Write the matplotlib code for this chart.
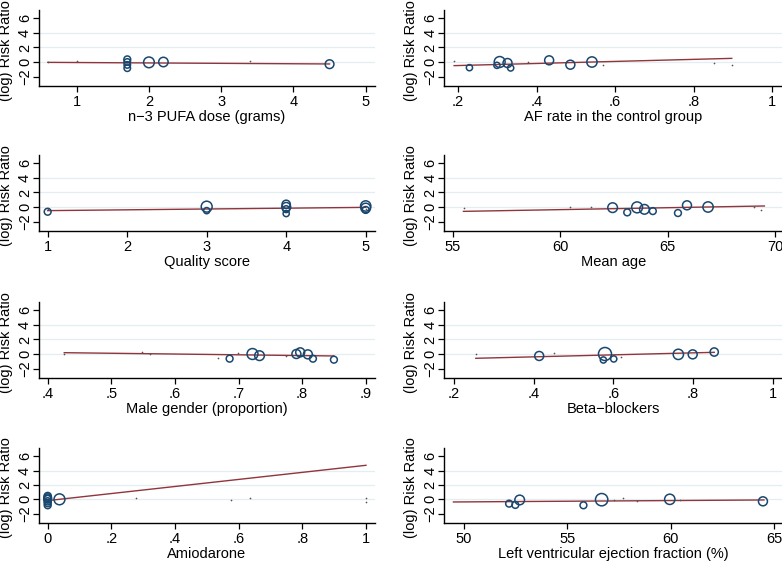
import matplotlib
matplotlib.use("Agg")
import matplotlib.pyplot as plt

plt.rcParams['font.family'] = ['Liberation Sans', 'DejaVu Sans']
plt.rcParams['font.size'] = 10

NAVY = '#1a476f'
MAROON = '#90353b'
GRID = '#e4edf0'

# --- n-3 PUFA dose
dose_x = [1.7, 1.7, 1.7, 1.7, 2.0, 2.2, 4.5]
dose_y = [0.36, 0.0, -0.4, -0.85, -0.05, 0.0, -0.3]
dose_w = [11, 10, 10, 10, 27, 21, 18]
dose_dots_x = [0.6, 1.0, 3.4]
dose_dots_y = [0.0, 0.18, 0.1]
dose_fit_x = [0.6, 4.5]
dose_fit_y = [-0.05, -0.27]
dose_ticks = [1, 2, 3, 4, 5]
dose_labels = ['1', '2', '3', '4', '5']

# --- AF rate in the control group
af_x = [0.229, 0.299, 0.306, 0.326, 0.334, 0.432, 0.486, 0.541]
af_y = [-0.78, -0.46, 0.0, -0.14, -0.82, 0.23, -0.37, 0.0]
af_w = [9, 9, 28, 19, 9, 19, 19, 25]
af_dots_x = [0.189, 0.377, 0.568, 0.853, 0.897]
af_dots_y = [0.18, 0.05, -0.46, -0.14, -0.37]
af_fit_x = [0.19, 0.897]
af_fit_y = [-0.5, 0.5]
af_ticks = [0.2, 0.4, 0.6, 0.8, 1.0]
af_labels = ['.2', '.4', '.6', '.8', '1']

# --- Quality score
qs_x = [1, 3, 3, 4, 4, 4, 4, 5, 5, 5]
qs_y = [-0.65, 0.05, -0.5, 0.37, 0.0, -0.3, -0.9, 0.14, -0.14, -0.4]
qs_w = [11, 28, 9, 16, 19, 11, 9, 25, 22, 11]
qs_dots_x = [1, 5]
qs_dots_y = [-0.3, -0.3]
qs_fit_x = [1, 5]
qs_fit_y = [-0.5, -0.05]
qs_ticks = [1, 2, 3, 4, 5]
qs_labels = ['1', '2', '3', '4', '5']

# --- Mean age
age_x = [62.44, 63.12, 63.58, 63.92, 64.31, 65.48, 65.90, 66.88]
age_y = [-0.09, -0.74, -0.05, -0.32, -0.56, -0.83, 0.23, 0.0]
age_w = [22, 11, 28, 22, 11, 11, 19, 25]
age_dots_x = [55.54, 60.48, 61.45, 69.01, 69.32]
age_dots_y = [-0.19, 0.05, 0.0, 0.05, -0.42]
age_fit_x = [55.5, 69.5]
age_fit_y = [-0.6, 0.14]
age_ticks = [55, 60, 65, 70]
age_labels = ['55', '60', '65', '70']

# --- Male gender (proportion)
male_x = [0.686, 0.722, 0.733, 0.791, 0.797, 0.809, 0.817, 0.850]
male_y = [-0.64, 0.0, -0.23, 0.0, 0.23, -0.05, -0.64, -0.78]
male_w = [11, 28, 22, 19, 19, 19, 11, 11]
male_dots_x = [0.426, 0.549, 0.561, 0.668, 0.699, 0.775]
male_dots_y = [0.05, 0.23, 0.05, -0.5, 0.18, -0.27]
male_fit_x = [0.426, 0.850]
male_fit_y = [0.18, -0.27]
male_ticks = [0.4, 0.5, 0.6, 0.7, 0.8, 0.9]
male_labels = ['.4', '.5', '.6', '.7', '.8', '.9']

# --- Beta-blockers
bb_x = [0.414, 0.579, 0.575, 0.601, 0.763, 0.799, 0.853]
bb_y = [-0.27, 0.0, -0.82, -0.68, -0.05, -0.05, 0.27]
bb_w = [19, 40, 9, 9, 25, 19, 16]
bb_dots_x = [0.256, 0.45, 0.618]
bb_dots_y = [0.05, 0.14, -0.46]
bb_fit_x = [0.255, 0.853]
bb_fit_y = [-0.59, 0.23]
bb_ticks = [0.2, 0.4, 0.6, 0.8, 1.0]
bb_labels = ['.2', '.4', '.6', '.8', '1']

# --- Amiodarone
amio_x = [0, 0, 0, 0, 0, 0, 0, 0.037]
amio_y = [0.46, 0.23, 0.0, -0.28, -0.55, -0.83, 0.1, 0.0]
amio_w = [12, 14, 14, 12, 11, 11, 12, 28]
amio_dots_x = [0.279, 0.575, 0.635, 1.0, 1.0]
amio_dots_y = [0.14, -0.14, 0.18, 0.14, -0.37]
amio_fit_x = [0, 1]
amio_fit_y = [-0.18, 4.74]
amio_ticks = [0, 0.2, 0.4, 0.6, 0.8, 1.0]
amio_labels = ['0', '.2', '.4', '.6', '.8', '1']

# --- Left ventricular ejection fraction
lvef_x = [52.19, 52.49, 52.70, 55.78, 56.66, 59.95, 64.45]
lvef_y = [-0.6, -0.78, -0.09, -0.83, -0.05, 0.0, -0.28]
lvef_w = [11, 11, 22, 11, 36, 25, 19]
lvef_dots_x = [57.28, 57.68, 58.37, 60.43]
lvef_dots_y = [-0.14, 0.14, -0.23, -0.05]
lvef_fit_x = [49.5, 64.5]
lvef_fit_y = [-0.37, -0.09]
lvef_ticks = [50, 55, 60, 65]
lvef_labels = ['50', '55', '60', '65']

y_ticks = [-2, 0, 2, 4, 6]
y_grid = [0, 2, 4]

panels = [
    ('n\u22123 PUFA dose (grams)', dose_x, dose_y, dose_w, dose_dots_x, dose_dots_y,
     dose_fit_x, dose_fit_y, dose_ticks, dose_labels, (0.478, 5.129)),
    ('AF rate in the control group', af_x, af_y, af_w, af_dots_x, af_dots_y,
     af_fit_x, af_fit_y, af_ticks, af_labels, (0.165, 1.025)),
    ('Quality score', qs_x, qs_y, qs_w, qs_dots_x, qs_dots_y,
     qs_fit_x, qs_fit_y, qs_ticks, qs_labels, (0.891, 5.117)),
    ('Mean age', age_x, age_y, age_w, age_dots_x, age_dots_y,
     age_fit_x, age_fit_y, age_ticks, age_labels, (54.61, 70.32)),
    ('Male gender (proportion)', male_x, male_y, male_w, male_dots_x, male_dots_y,
     male_fit_x, male_fit_y, male_ticks, male_labels, (0.3863, 0.9146)),
    ('Beta\u2212blockers', bb_x, bb_y, bb_w, bb_dots_x, bb_dots_y,
     bb_fit_x, bb_fit_y, bb_ticks, bb_labels, (0.176, 1.023)),
    ('Amiodarone', amio_x, amio_y, amio_w, amio_dots_x, amio_dots_y,
     amio_fit_x, amio_fit_y, amio_ticks, amio_labels, (-0.0273, 1.0283)),
    ('Left ventricular ejection fraction (%)', lvef_x, lvef_y, lvef_w, lvef_dots_x, lvef_dots_y,
     lvef_fit_x, lvef_fit_y, lvef_ticks, lvef_labels, (49.06, 65.37)),
]

W, H = 782, 561
fig = plt.figure(figsize=(W / 100, H / 100), dpi=100)

col_left = [39, 444.3]
col_width = [336, 337.7]
rows = [(10, 86), (155, 231), (302, 378), (448, 523)]

for i, (xlabel, x, y, w, dx, dy, fx, fy, ticks, labels, xlim) in enumerate(panels):
    r, c = divmod(i, 2)
    top, bottom = rows[r]
    ax = fig.add_axes([col_left[c] / W, 1 - bottom / H, col_width[c] / W, (bottom - top) / H])

    for g in y_grid:
        ax.axhline(g, color=GRID, lw=0.9, zorder=0)

    ax.plot(fx, fy, color=MAROON, lw=1.0, zorder=2)
    ax.scatter(x, y, s=[2.2 * v for v in w], facecolors='none', edgecolors=NAVY,
               linewidths=1.1, zorder=3)
    ax.scatter(dx, dy, s=1.5, color='#555555', linewidths=0, zorder=3)

    ax.set_xlim(*xlim)
    ax.set_ylim(-3.3, 7.15)
    ax.set_xticks(ticks)
    ax.set_xticklabels(labels)
    ax.set_yticks(y_ticks)
    ax.set_yticklabels([str(v).replace('-', '\u2212') for v in y_ticks],
                       rotation=90, va='center', ha='right')

    for s in ['top', 'right']:
        ax.spines[s].set_visible(False)
    for s in ['left', 'bottom']:
        ax.spines[s].set_linewidth(1.0)
        ax.spines[s].set_color('black')

    ax.tick_params(axis='both', direction='out', length=4, width=0.9,
                   labelsize=10.5, colors='black')
    ax.tick_params(axis='x', pad=2.5)
    ax.tick_params(axis='y', pad=1)

    ax.set_xlabel(xlabel, fontsize=10.5, labelpad=1)
    ax.set_ylabel('(log) Risk Ratio', fontsize=10.5)
    ax.yaxis.set_label_coords(-0.078, 0.47)

fig.savefig('out.png', dpi=100, facecolor='white')
